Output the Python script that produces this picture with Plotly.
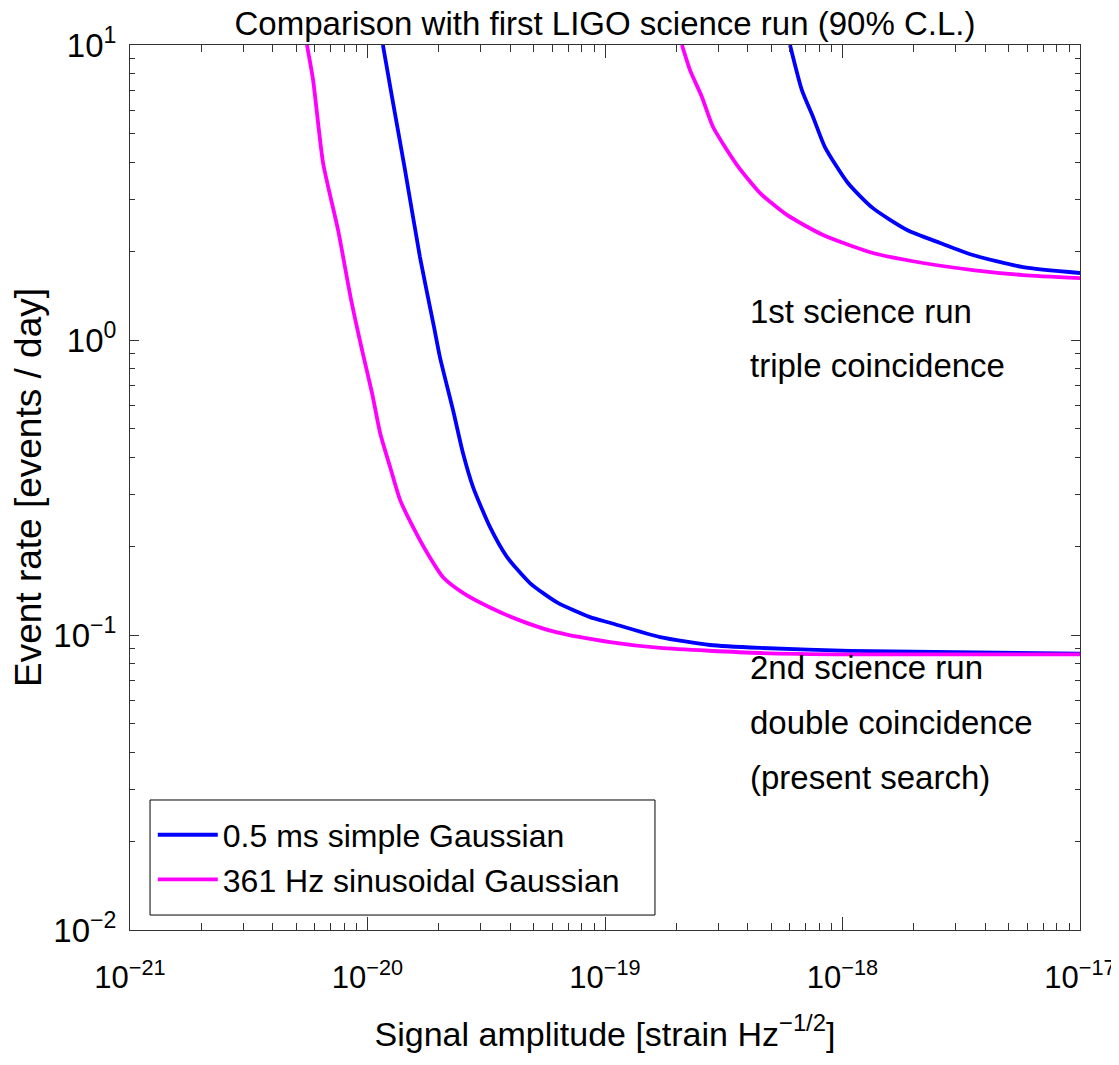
import plotly.graph_objects as go

# ---- data ----
# 0.5 ms simple Gaussian, 2nd science run (double coincidence)
sg_s2_amp = [1.161e-20, 1.268e-20, 1.439e-20, 1.663e-20, 1.905e-20, 2.018e-20, 2.291e-20,
             2.523e-20, 2.780e-20, 3.281e-20, 3.864e-20, 4.831e-20, 6.281e-20, 8.650e-20,
             1.050e-19, 1.706e-19, 2.767e-19, 4.498e-19, 1.076e-18, 1.0e-17]
sg_s2_rate = [10.0, 6.668, 3.767, 1.910, 1.107, 0.875, 0.579, 0.414, 0.318, 0.232, 0.184,
              0.150, 0.129, 0.115, 0.110, 0.0984, 0.0925, 0.0904, 0.0883, 0.0865]

# 361 Hz sinusoidal Gaussian, 2nd science run
sin_s2_amp = [5.559e-21, 5.902e-21, 6.501e-21, 7.516e-21, 8.531e-21, 9.484e-21, 1.045e-20,
              1.130e-20, 1.245e-20, 1.371e-20, 1.556e-20, 1.782e-20, 2.080e-20, 2.523e-20,
              3.281e-20, 4.519e-20, 6.281e-20, 1.050e-19, 1.706e-19, 4.498e-19, 1.076e-18, 1.0e-17]
sin_s2_rate = [10.0, 7.603, 3.981, 2.360, 1.368, 0.925, 0.661, 0.484, 0.371, 0.287, 0.232,
               0.190, 0.157, 0.139, 0.124, 0.111, 0.102, 0.0946, 0.0904, 0.0869, 0.0860, 0.0860]

# 0.5 ms simple Gaussian, 1st science run (triple coincidence)
sg_s1_amp = [6.012e-19, 6.745e-19, 7.516e-19, 8.433e-19, 1.054e-18, 1.343e-18, 1.871e-18,
             2.576e-18, 3.540e-18, 5.754e-18, 1.0e-17]
sg_s1_rate = [10.0, 7.031, 5.702, 4.508, 3.404, 2.799, 2.360, 2.133, 1.941, 1.766, 1.687]

# 361 Hz sinusoidal Gaussian, 1st science run
sin_s1_amp = [2.109e-19, 2.280e-19, 2.559e-19, 2.851e-19, 3.597e-19, 4.498e-19, 5.834e-19,
              8.279e-19, 1.343e-18, 2.183e-18, 3.540e-18, 5.754e-18, 1.0e-17]
sin_s1_rate = [10.0, 8.222, 6.668, 5.272, 3.917, 3.148, 2.655, 2.270, 1.972, 1.824, 1.726,
               1.660, 1.622]

series_names = ["0.5 ms simple Gaussian", "361 Hz sinusoidal Gaussian"]
series_colors = ["#0000FF", "#FF00FF"]

x_tick_vals = [1e-21, 1e-20, 1e-19, 1e-18, 1e-17]
x_tick_text = ["10<sup>−21</sup>", "10<sup>−20</sup>", "10<sup>−19</sup>",
               "10<sup>−18</sup>", "10<sup>−17</sup>"]
y_tick_vals = [1e-2, 1e-1, 1e0, 1e1]
y_tick_text = ["10<sup>−2</sup>", "10<sup>−1</sup>", "10<sup>0</sup>", "10<sup>1</sup>"]

x_minor = [k * 10.0 ** e for e in range(-21, -17) for k in range(2, 10)]
y_minor = [k * 10.0 ** e for e in range(-2, 1) for k in range(2, 10)]

FONT = "Liberation Sans, Arial, Helvetica, sans-serif"
LW = 3.8

fig = go.Figure()
fig.add_trace(go.Scatter(x=sg_s2_amp, y=sg_s2_rate, mode="lines", name=series_names[0],
                         line=dict(color=series_colors[0], width=LW, shape="spline", smoothing=0.6),
                         legendgroup="a"))
fig.add_trace(go.Scatter(x=sin_s2_amp, y=sin_s2_rate, mode="lines", name=series_names[1],
                         line=dict(color=series_colors[1], width=LW, shape="spline", smoothing=0.6),
                         legendgroup="b"))
fig.add_trace(go.Scatter(x=sg_s1_amp, y=sg_s1_rate, mode="lines", name=series_names[0],
                         line=dict(color=series_colors[0], width=LW, shape="spline", smoothing=0.6),
                         legendgroup="a", showlegend=False))
fig.add_trace(go.Scatter(x=sin_s1_amp, y=sin_s1_rate, mode="lines", name=series_names[1],
                         line=dict(color=series_colors[1], width=LW, shape="spline", smoothing=0.6),
                         legendgroup="b", showlegend=False))

axis_common = dict(showgrid=False, zeroline=False, showline=True, linecolor="#333333",
                   linewidth=1, mirror="ticks", ticks="inside", tickcolor="#333333",
                   tickmode="array", automargin=False)

fig.update_xaxes(type="log", range=[-21, -17], tickvals=x_tick_vals, ticktext=x_tick_text,
                 ticklen=13, ticklabelstandoff=20,
                 tickfont=dict(family=FONT, size=31, color="black"),
                 minor=dict(tickvals=x_minor, ticks="inside", ticklen=7,
                            tickcolor="#333333", showgrid=False),
                 title=dict(text="Signal amplitude [strain Hz<sup>−1/2</sup>]",
                            font=dict(family=FONT, size=34, color="black"), standoff=27),
                 **axis_common)
fig.update_yaxes(type="log", range=[-2, 1], tickvals=y_tick_vals, ticktext=y_tick_text,
                 ticklen=9, ticklabelstandoff=6,
                 tickfont=dict(family=FONT, size=33, color="black"),
                 minor=dict(tickvals=y_minor, ticks="inside", ticklen=5,
                            tickcolor="#333333", showgrid=False),
                 title=dict(text="Event rate [events / day]",
                            font=dict(family=FONT, size=37, color="black"), standoff=12),
                 **axis_common)

ann_font = dict(family=FONT, size=33, color="black")
ann_lines = [("1st science run", 0.699), ("triple coincidence", 0.638),
             ("2nd science run", 0.297), ("double coincidence", 0.235),
             ("(present search)", 0.172)]
for txt, yy in ann_lines:
    fig.add_annotation(text=txt, xref="paper", yref="paper", x=0.6505, y=yy,
                       xanchor="left", yanchor="middle", showarrow=False, font=ann_font)

# legend frame
fig.add_shape(type="rect", xref="paper", yref="paper", x0=0.0211, x1=0.5526,
              y0=0.0169, y1=0.1469, line=dict(color="black", width=1),
              fillcolor="white", layer="above")

fig.update_layout(
    width=1111, height=1057,
    margin=dict(l=122, r=39, t=37, b=135),
    paper_bgcolor="white", plot_bgcolor="white",
    title=dict(text="Comparison with first LIGO science run (90% C.L.)",
               font=dict(family=FONT, size=33, color="black"),
               x=0.5, xref="paper", xanchor="center", y=0.9855, yanchor="middle"),
    legend=dict(x=0.024, y=0.082, xanchor="left", yanchor="middle",
                bgcolor="rgba(0,0,0,0)", borderwidth=0,
                font=dict(family=FONT, size=32, color="black"),
                tracegroupgap=0, itemwidth=60),
    showlegend=True,
)

fig.write_html("out.html")
